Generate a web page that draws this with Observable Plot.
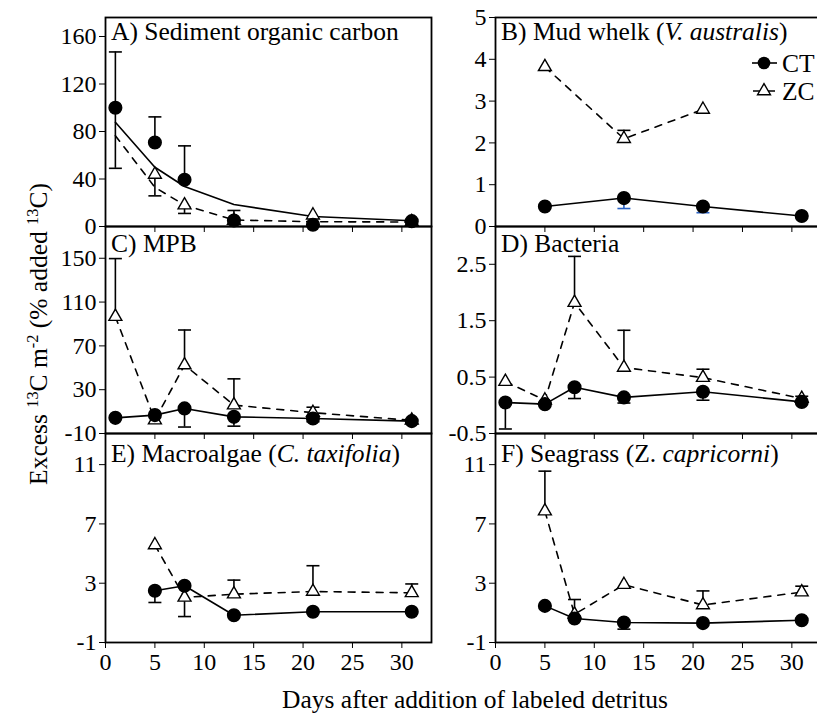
<!DOCTYPE html>
<html><head><meta charset="utf-8">
<script src="https://cdn.jsdelivr.net/npm/d3@7"></script>
<script src="https://cdn.jsdelivr.net/npm/@observablehq/plot@0.6"></script>
<style>
html,body{margin:0;padding:0;background:#fff;overflow:hidden}
#wrap{position:relative;width:817px;height:724px;overflow:hidden;background:#fff}
#wrap svg, #wrap svg text, #wrap svg tspan{font-family:"Liberation Serif","DejaVu Serif",serif !important}
</style></head><body><div id="wrap"></div>
<script>
// ---------- data ----------
const days = [1, 5, 8, 13, 21, 31];
const xTicks = [0, 5, 10, 15, 20, 25, 30];

// A) Sediment organic carbon
const aCT    = [100, 70.7, 39.3, 5, 1.5, 4.5];
const aCTup  = [47, 21.6, 28.6, 0, 0, 0];
const aCTdn  = [51, 0, 0, 0, 0, 0];
const aZC    = [null, 43.8, 18, 5, 9.5, 4];
const aZCup  = [0, 0, 0, 8.5, 0, 0];
const aZCdn  = [0, 18, 7, 0, 0, 0];
const aCTfit = [87.8, 49.9, 33.7, 18.5, 8.4, 4.8];
const aZCfit = [76.5, 33, 18, 5.5, 4, 3.8];
const aTicks = [0, 40, 80, 120, 160];

// B) Mud whelk
const bCT   = [null, 0.48, null, 0.68, 0.48, 0.25];
const bCTdn = [0, 0, 0, 0.25, 0.15, 0];
const bZC   = [null, 3.82, null, 2.1, 2.8, null];
const bZCup = [0, 0, 0, 0.2, 0, 0];
const bTicks = [0, 1, 2, 3, 4, 5];

// C) MPB
const cCT   = [4.3, 6.8, 12.9, 5.2, 3.7, 1.3];
const cCTdn = [0, 0, 17, 8.5, 3, 0];
const cZC   = [96.7, 2.2, 52.5, 15.9, 9, 2];
const cZCup = [53, 0, 32, 24, 5, 0];
const cTicks = [-10, 30, 70, 110, 150];

// D) Bacteria
const dCT   = [0.05, 0.02, 0.32, 0.14, 0.24, 0.06];
const dCTdn = [0.47, 0, 0.2, 0.1, 0.15, 0];
const dZC   = [0.42, 0.09, 1.82, 0.67, 0.49, 0.12];
const dZCup = [0, 0, 0.82, 0.66, 0.15, 0.04];
const dTicks = [-0.5, 0.5, 1.5, 2.5];

// E) Macroalgae
const eCT   = [null, 2.49, 2.83, 0.84, 1.07, 1.07];
const eCTdn = [0, 0.79, 2.08, 0, 0, 0];
const eZC   = [null, 5.58, 2.04, 2.26, 2.44, 2.35];
const eZCup = [0, 0, 0, 0.95, 1.74, 0.6];
const eTicks = [-1, 3, 7, 11];

// F) Seagrass
const fCT   = [null, 1.47, 0.62, 0.35, 0.31, 0.5];
const fCTdn = [0, 0, 0, 0.45, 0, 0];
const fZC   = [null, 7.86, 0.9, 2.9, 1.53, 2.4];
const fZCup = [0, 2.7, 1.0, 0, 0.95, 0.4];
const fTicks = [-1, 3, 7, 11];

// ---------- layout ----------
const FONT = "Liberation Serif, DejaVu Serif, serif";
const colLeft = [105, 495];
const frameW = 326;
const rowTop = [17, 226, 433];
const rowH = [209, 207, 209];
const mL = 100, mT = 17;

const panels = [
  {ct:aCT, ctUp:aCTup, ctDn:aCTdn, zc:aZC, zcUp:aZCup, zcDn:aZCdn, ctLine:aCTfit, zcLine:aZCfit, domain:[0,176], ticks:aTicks, col:0, row:0},
  {ct:bCT, ctDn:bCTdn, zc:bZC, zcUp:bZCup, domain:[0,5], ticks:bTicks, col:1, row:0, ctErrColor:"#2a62c4"},
  {ct:cCT, ctDn:cCTdn, zc:cZC, zcUp:cZCup, domain:[-10,179], ticks:cTicks, col:0, row:1},
  {ct:dCT, ctDn:dCTdn, zc:dZC, zcUp:dZCup, domain:[-0.5,3.17], ticks:dTicks, col:1, row:1},
  {ct:eCT, ctDn:eCTdn, zc:eZC, zcUp:eZCup, domain:[-1,13.1], ticks:eTicks, col:0, row:2},
  {ct:fCT, ctDn:fCTdn, zc:fZC, zcUp:fZCup, domain:[-1,13.1], ticks:fTicks, col:1, row:2}
];

const cap = {draw(ctx){ ctx.moveTo(-6.5, 0); ctx.lineTo(6.5, 0); }};

function rows(vals, up, dn) {
  return days.map((d, i) => ({day: d, v: vals[i], up: up ? up[i] : 0, dn: dn ? dn[i] : 0}))
             .filter(r => r.v != null);
}

function errMarks(data, color) {
  const u = data.filter(r => r.up > 0), d = data.filter(r => r.dn > 0);
  return [
    Plot.ruleX(u, {x: "day", y1: "v", y2: r => r.v + r.up, stroke: color, strokeWidth: 1.6}),
    Plot.dot(u, {x: "day", y: r => r.v + r.up, symbol: cap, r: 3, fill: "none", stroke: color, strokeWidth: 1.6}),
    Plot.ruleX(d, {x: "day", y1: "v", y2: r => r.v - r.dn, stroke: color, strokeWidth: 1.6}),
    Plot.dot(d, {x: "day", y: r => r.v - r.dn, symbol: cap, r: 3, fill: "none", stroke: color, strokeWidth: 1.6})
  ];
}

const wrap = document.getElementById("wrap");

for (const p of panels) {
  const ct = rows(p.ct, p.ctUp, p.ctDn);
  const zc = rows(p.zc, p.zcUp, p.zcDn);
  const ctL = p.ctLine ? rows(p.ctLine) : ct;
  const zcL = p.zcLine ? rows(p.zcLine) : zc;
  const mB = p.row === 2 ? 45 : 10;
  const svg = Plot.plot({
    width: mL + frameW + 3,
    height: mT + rowH[p.row] + mB,
    marginLeft: mL, marginRight: 3, marginTop: mT, marginBottom: mB,
    style: {fontFamily: FONT, fontSize: "24px", color: "#000", background: "transparent", overflow: "visible"},
    x: {domain: [0, 33], ticks: xTicks, tickSize: 6, tickPadding: 4,
        tickFormat: p.row === 2 ? (d => String(d)) : (() => ""), label: null},
    y: {domain: p.domain, ticks: p.ticks, tickSize: 6, tickPadding: 3, tickFormat: d => String(d), label: null},
    marks: [
      Plot.line(zcL, {x: "day", y: "v", stroke: "#000", strokeWidth: 1.6, strokeDasharray: "7,7"}),
      Plot.line(ctL, {x: "day", y: "v", stroke: "#000", strokeWidth: 1.6}),
      ...errMarks(zc, "#000"),
      ...errMarks(ct, p.ctErrColor || "#000"),
      Plot.dot(zc, {x: "day", y: "v", symbol: "triangle", r: 4.8, fill: "#fff", stroke: "#000", strokeWidth: 1.4}),
      Plot.dot(ct, {x: "day", y: "v", r: 6.3, fill: "#000", stroke: "#000"}),
      Plot.frame({stroke: "#000", strokeWidth: 1.8})
    ]
  });
  svg.setAttribute("font-family", FONT);
  svg.style.position = "absolute";
  svg.style.left = (colLeft[p.col] - mL) + "px";
  svg.style.top = (rowTop[p.row] - mT) + "px";
  svg.style.maxWidth = "none";
  wrap.appendChild(svg);
}

// ---------- overlay: panel titles, axis titles, legend ----------
const NS = "http://www.w3.org/2000/svg";
const ov = document.createElementNS(NS, "svg");
ov.setAttribute("width", 817); ov.setAttribute("height", 724);
ov.style.cssText = "position:absolute;left:0;top:0;pointer-events:none";
ov.setAttribute("font-family", FONT);
wrap.appendChild(ov);

function addText(parent, x, y, parts, size, attrs = {}) {
  const t = document.createElementNS(NS, "text");
  t.setAttribute("x", x); t.setAttribute("y", y);
  t.setAttribute("font-size", size); t.setAttribute("fill", "#000");
  for (const k in attrs) t.setAttribute(k, attrs[k]);
  for (const part of parts) {
    const s = document.createElementNS(NS, "tspan");
    if (typeof part === "string") s.textContent = part;
    else {
      s.textContent = part.t;
      if (part.i) s.setAttribute("font-style", "italic");
      if (part.sup) { s.setAttribute("baseline-shift", "super"); s.setAttribute("font-size", size * 0.64); }
    }
    t.appendChild(s);
  }
  parent.appendChild(t);
  return t;
}

const titles = [
  {x: 111, y: 40, parts: ["A) Sediment organic carbon"]},
  {x: 501, y: 40, parts: ["B) Mud whelk (", {t: "V. australis", i: true}, ")"]},
  {x: 111, y: 252, parts: ["C) MPB"]},
  {x: 501, y: 252, parts: ["D) Bacteria"]},
  {x: 111, y: 462, parts: ["E) Macroalgae (", {t: "C. taxifolia", i: true}, ")"]},
  {x: 501, y: 462, parts: ["F) Seagrass (Z. ", {t: "capricorni", i: true}, ")"]}
];
for (const t of titles) addText(ov, t.x, t.y, t.parts, 25.5);

addText(ov, 0, 0, ["Excess ", {t: "13", sup: true}, "C m", {t: "-2", sup: true}, " (% added ", {t: "13", sup: true}, "C)"], 25.5,
  {"text-anchor": "middle", transform: "translate(47,334) rotate(-90)"});
addText(ov, 475, 708, ["Days after addition of labeled detritus"], 25.5, {"text-anchor": "middle"});

// legend (panel B)
const lg = document.createElementNS(NS, "g");
lg.innerHTML =
  '<line x1="752" x2="777" y1="63" y2="63" stroke="#000" stroke-width="1.6"/>' +
  '<circle cx="764" cy="63" r="6.3" fill="#000"/>' +
  '<line x1="753" x2="777" y1="91" y2="91" stroke="#000" stroke-width="1.6" stroke-dasharray="7,8"/>' +
  '<path d="' + d3.symbol(d3.symbolTriangle, Math.PI * 4.8 * 4.8)() + '" transform="translate(764,91)" fill="#fff" stroke="#000" stroke-width="1.4"/>';
ov.appendChild(lg);
addText(ov, 782, 72, ["CT"], 25.5);
addText(ov, 782, 100, ["ZC"], 25.5);
</script></body></html>
